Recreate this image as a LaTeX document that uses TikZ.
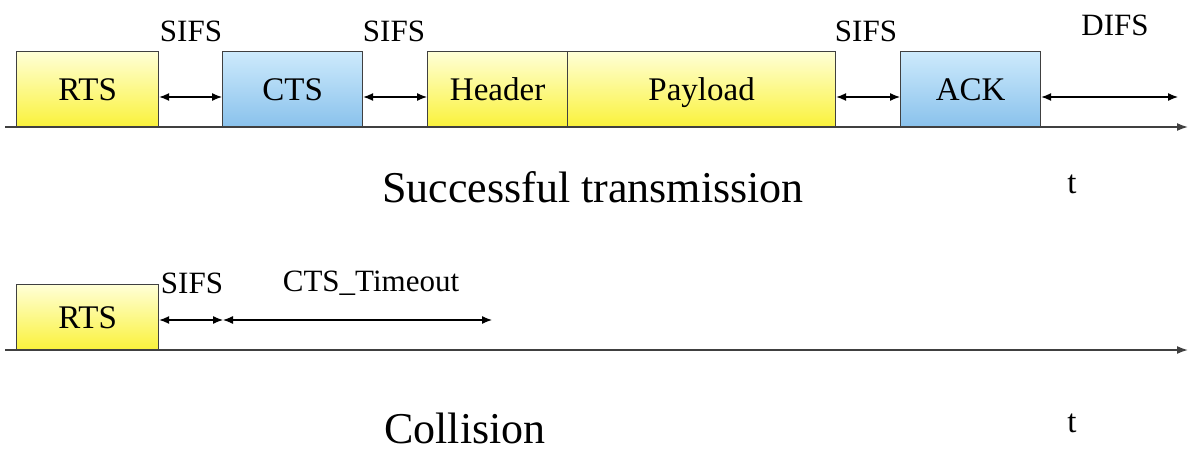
\documentclass[tikz,border=0pt]{standalone}
\usepackage{fontspec}
\setmainfont{Liberation Serif}
\usetikzlibrary{arrows.meta}
\definecolor{ytop}{RGB}{255,255,215}
\definecolor{ybot}{RGB}{250,242,60}
\definecolor{btop}{RGB}{205,234,252}
\definecolor{bbot}{RGB}{138,194,236}
\begin{document}
\begin{tikzpicture}[x=1pt,y=-1pt,
  frame/.style={draw=black!75, line width=1.2pt, anchor=south west, inner sep=0pt,
    minimum height=75, text height=26, text depth=2, font=\fontsize{33}{33}\selectfont},
  ybox/.style={frame, top color=ytop, bottom color=ybot},
  bbox/.style={frame, top color=btop, bottom color=bbot},
  dim/.style={{Latex[length=10,width=8]}-{Latex[length=10,width=8]}, line width=1.2pt},
  axis/.style={-{Latex[length=11,width=8]}, line width=1.6pt, draw=black!75},
  lab/.style={font=\fontsize{31}{31}\selectfont, inner sep=0pt},
  captext/.style={font=\fontsize{44}{44}\selectfont, inner sep=0pt}]
\useasboundingbox (0,0) rectangle (1189,452);

% successful exchange
\coordinate (a0) at (5,127);
\coordinate (a1) at (1188,127);
\draw[axis] (a0) -- (a1);
\node[ybox, minimum width=142] (rts) at (16,127) {RTS};
\node[bbox, minimum width=140] (cts) at (222,127) {CTS};
\node[ybox, minimum width=140] (hdr) at (427,127) {Header};
\node[ybox, minimum width=268] (pay) at (567,127) {Payload};
\node[bbox, minimum width=140] (ack) at (900,127) {ACK};

\coordinate (ya) at (0,97);
\coordinate (difsend) at (1178,97);
\draw[dim] (rts.east |- ya) -- (cts.west |- ya);
\draw[dim] (cts.east |- ya) -- (hdr.west |- ya);
\draw[dim] (pay.east |- ya) -- (ack.west |- ya);
\draw[dim] (ack.east |- ya) -- (difsend);

\node[lab] (s1) at (191,31) {SIFS};
\node[lab] (s2) at (394,31) {SIFS};
\node[lab] (s3) at (866,31) {SIFS};
\node[lab] (difs) at (1115,25) {DIFS};

\node[captext] (succ) at (593,187) {Successful transmission};
\node[lab, font=\fontsize{33}{33}\selectfont] (t1) at (1072,184) {t};

% collision
\coordinate (b0) at (5,350);
\coordinate (b1) at (1188,350);
\draw[axis] (b0) -- (b1);
\node[ybox, minimum width=142, minimum height=65] (rtsb) at (16,350) {RTS};

\coordinate (yb) at (0,320);
\coordinate (cto) at (223,320);
\coordinate (ctoend) at (492,320);
\draw[dim] (rtsb.east |- yb) -- (cto);
\draw[dim] (cto) -- (ctoend);

\node[lab] (s4) at (192,283) {SIFS};
\node[lab] (tmo) at (371,283) {CTS\_Timeout};

\node[captext] (coll) at (465,428) {Collision};
\node[lab, font=\fontsize{33}{33}\selectfont] (t2) at (1072,423) {t};
\end{tikzpicture}
\end{document}
